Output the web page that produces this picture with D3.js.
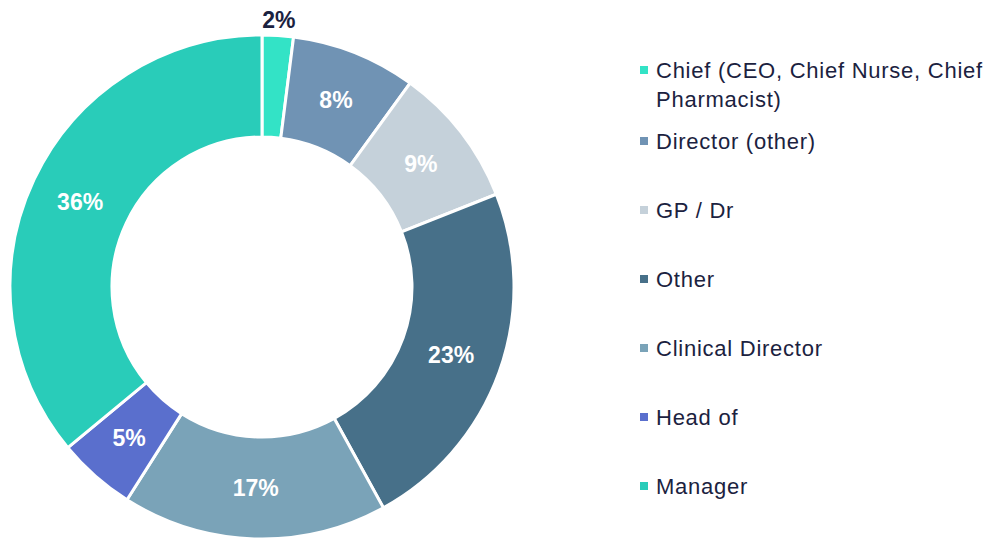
<!DOCTYPE html>
<html>
<head>
<meta charset="utf-8">
<script src="https://cdn.jsdelivr.net/npm/d3@7"></script>
<style>
  body { margin: 0; background: #fff; }
  svg { display: block; font-family: "Liberation Sans", Arial, sans-serif; }
</style>
</head>
<body>
<div id="chart"></div>
<script>
const categories = ['Chief (CEO, Chief Nurse, Chief Pharmacist)', 'Director (other)', 'GP / Dr', 'Other', 'Clinical Director', 'Head of', 'Manager'];
const legendLines = [['Chief (CEO, Chief Nurse, Chief', 'Pharmacist)'], ['Director (other)'], ['GP / Dr'], ['Other'], ['Clinical Director'], ['Head of'], ['Manager']];
const values = [2, 8, 9, 23, 17, 5, 36];
const colors = ['#33e3c6', '#7093b4', '#c5d1da', '#477089', '#7aa3b8', '#5a6fcd', '#29ccb9'];

const W = 992, H = 538;
const cx = 262, cy = 287, outerR = 252, innerR = 150;
const textCol = '#1b2240';

const svg = d3.select('#chart').append('svg').attr('width', W).attr('height', H);
const g = svg.append('g').attr('transform', `translate(${cx},${cy})`);

const data = categories.map((c, i) => ({ cat: c, value: values[i], color: colors[i] }));
const pie = d3.pie().value(d => d.value).sort(null);
const arcs = pie(data);
const arc = d3.arc().innerRadius(innerR).outerRadius(outerR);
const labelArc = d3.arc().innerRadius(201).outerRadius(201);
const outArc = d3.arc().innerRadius(268).outerRadius(268);

g.selectAll('path.slice').data(arcs).enter().append('path')
    .attr('class', 'slice')
    .attr('d', arc)
    .attr('fill', d => d.data.color)
    .attr('stroke', '#fff')
    .attr('stroke-width', 3)
    .attr('stroke-linejoin', 'miter');

// small slices get their label outside
const labels = g.selectAll('text.lbl').data(arcs).enter().append('text')
    .attr('class', 'lbl')
    .attr('transform', d => {
        const p = d.data.value < 4 ? outArc.centroid(d) : labelArc.centroid(d);
        return `translate(${p[0]},${p[1]})`;
    })
    .attr('text-anchor', 'middle')
    .attr('dy', '0.36em')
    .style('font-size', '23px')
    .style('font-weight', 'bold')
    .text(d => d.data.value + '%');

labels.filter(d => d.data.value < 4)
    .attr('fill', textCol)
    .attr('stroke', '#fff')
    .attr('stroke-width', 3)
    .attr('paint-order', 'stroke');
labels.filter(d => d.data.value >= 4).attr('fill', '#fff');

// legend, one row every 69px, first row has two lines
const rowY = [78, 149, 218, 287, 356, 425, 494];
const items = svg.append('g').selectAll('g.item').data(data).enter().append('g')
    .attr('class', 'item')
    .attr('transform', (d, i) => `translate(640,${rowY[i]})`);

items.append('rect')
    .attr('x', 0).attr('y', -12)
    .attr('width', 8).attr('height', 8)
    .attr('fill', d => d.color);

items.append('text')
    .attr('fill', textCol)
    .style('font-size', '22px')
    .style('letter-spacing', '0.75px')
    .selectAll('tspan')
    .data((d, i) => legendLines[i])
    .enter().append('tspan')
    .attr('x', 16)
    .attr('y', (d, j) => j * 29)
    .text(d => d);
</script>
</body>
</html>
